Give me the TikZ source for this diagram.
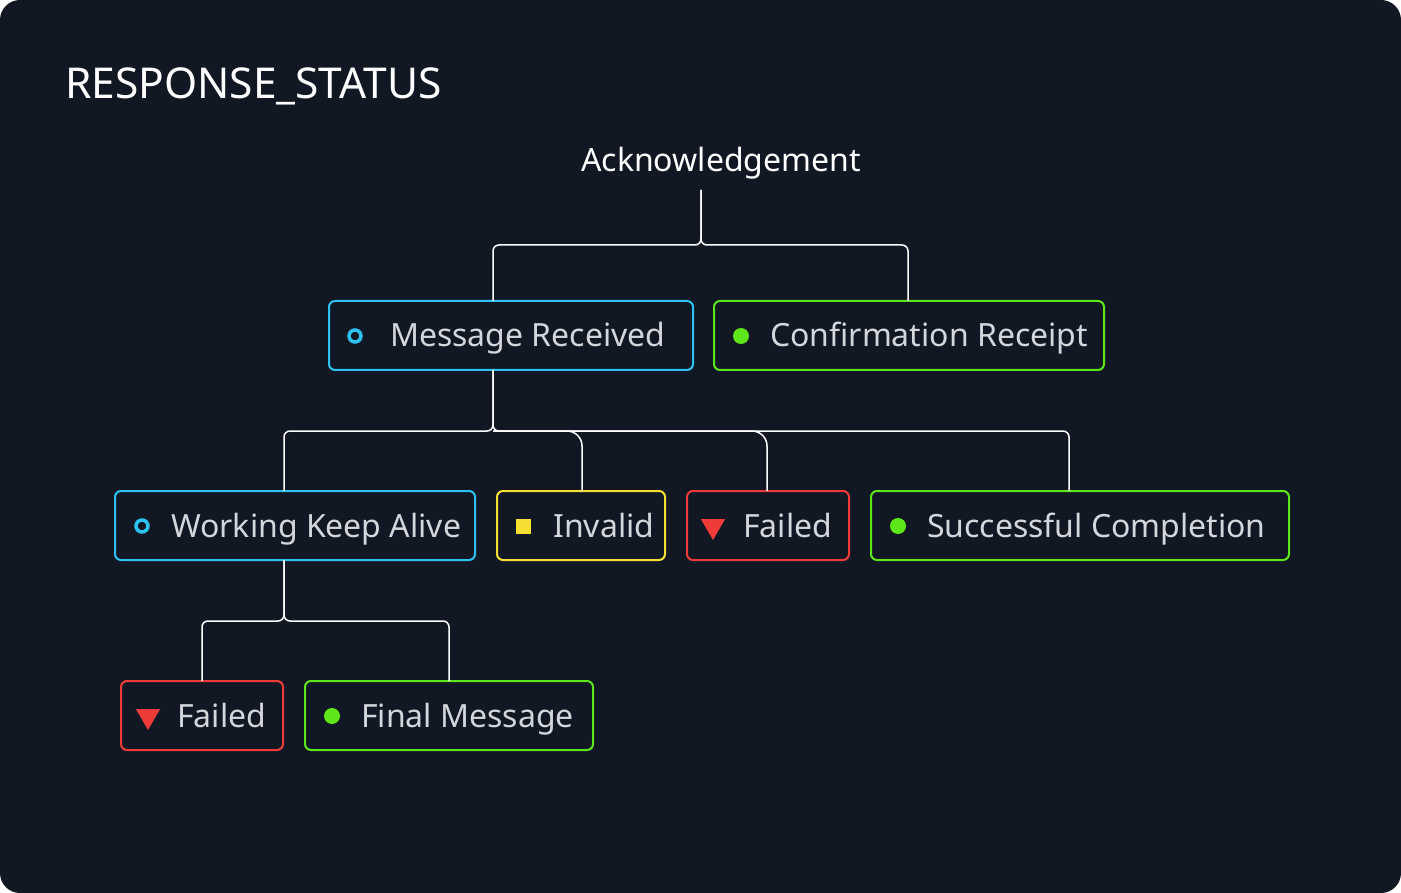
\documentclass[tikz,border=0pt]{standalone}
\usepackage{fontspec}
\setmainfont{Noto Sans}
\usetikzlibrary{shapes.geometric}

\definecolor{bgc}{HTML}{111823}
\definecolor{cyanc}{HTML}{2CC3F3}
\definecolor{greenc}{HTML}{5DE619}
\definecolor{yellowc}{HTML}{F6DE32}
\definecolor{redc}{HTML}{F03B3B}
\definecolor{txtc}{HTML}{D3D6DB}

\tikzset{
  statusbox/.style={draw=#1, line width=2pt, rounded corners=6pt, fill=bgc,
    minimum height=69pt, inner sep=0pt},
  boxtext/.style={anchor=base west, inner sep=0pt, text=txtc,
    font=\fontsize{32}{38}\selectfont},
  ringicon/.style={circle, draw=cyanc, line width=3.5pt, minimum size=12pt, inner sep=0pt},
  doticon/.style={circle, fill=greenc, minimum size=16pt, inner sep=0pt},
  squareicon/.style={rectangle, fill=yellowc, minimum size=15pt, inner sep=0pt},
  triicon/.style={isosceles triangle, isosceles triangle apex angle=60, shape border rotate=-90,
    fill=redc, minimum height=21pt, inner sep=0pt},
  link/.style={draw=white, line width=1.5pt, rounded corners=6pt},
  biglink/.style={draw=white, line width=1.5pt, rounded corners=15pt}
}

\begin{document}
\begin{tikzpicture}[x=1pt, y=-1pt]

  \useasboundingbox (0,0) rectangle (1401,893);
  \fill[bgc, rounded corners=20pt] (0,0) rectangle (1401,893);

  % title and root
  \node[anchor=base west, inner sep=0pt, text=white, font=\fontsize{42.5}{50}\selectfont]
    (title) at (65,99) {RESPONSE\_STATUS};
  \node[anchor=base, inner sep=0pt, text=white, font=\fontsize{32}{38}\selectfont]
    (ack) at (721,172) {Acknowledgement};

  % first level
  \node[statusbox=cyanc, minimum width=364pt] (mr) at (511,335.5) {};
  \node[ringicon] (mr-icon) at (355,336) {};
  \node[boxtext] (mr-text) at (390,347) {Message Received};

  \node[statusbox=greenc, minimum width=390pt] (cr) at (909,335.5) {};
  \node[doticon] (cr-icon) at (741,336) {};
  \node[boxtext] (cr-text) at (770,347) {Confirmation Receipt};

  % second level
  \node[statusbox=cyanc, minimum width=360pt] (wka) at (295,525.5) {};
  \node[ringicon] (wka-icon) at (142,526) {};
  \node[boxtext] (wka-text) at (171,537) {Working Keep Alive};

  \node[statusbox=yellowc, minimum width=168pt] (inv) at (581,525.5) {};
  \node[squareicon] (inv-icon) at (523,526) {};
  \node[boxtext] (inv-text) at (553,537) {Invalid};

  \node[statusbox=redc, minimum width=162pt] (fail) at (768,525.5) {};
  \node[triicon] (fail-icon) at (713,526) {};
  \node[boxtext] (fail-text) at (743,537) {Failed};

  \node[statusbox=greenc, minimum width=418pt] (sc) at (1080,525.5) {};
  \node[doticon] (sc-icon) at (898,526) {};
  \node[boxtext] (sc-text) at (927,537) {Successful Completion};

  % third level
  \node[statusbox=redc, minimum width=162pt] (failb) at (202,715.5) {};
  \node[triicon] (failb-icon) at (148,716) {};
  \node[boxtext] (failb-text) at (177,727) {Failed};

  \node[statusbox=greenc, minimum width=288pt] (fm) at (449,715.5) {};
  \node[doticon] (fm-icon) at (332,716) {};
  \node[boxtext] (fm-text) at (361,727) {Final Message};

  % connector ends
  \coordinate (ack-out) at (701,190);
  \coordinate (j0) at (701,245);
  \coordinate (mr-in) at (493,301);
  \coordinate (cr-in) at (908,301);

  \coordinate (mr-out) at (493,370);
  \coordinate (j1) at (493,431);
  \coordinate (wka-in) at (284,491);
  \coordinate (inv-in) at (582,491);
  \coordinate (fail-in) at (767,491);
  \coordinate (sc-in) at (1069,491);

  \coordinate (wka-out) at (284,560);
  \coordinate (j2) at (284,621);
  \coordinate (failb-in) at (202,681);
  \coordinate (fm-in) at (449,681);

  % connectors
  \draw[link] (ack-out) -- (j0) -| (mr-in);
  \draw[link] (ack-out) -- (j0) -| (cr-in);

  \draw[link] (mr-out) -- (j1) -| (wka-in);
  \draw[link] (mr-out) -- (j1) -| (sc-in);
  \draw[biglink] (j1) -| (inv-in);
  \draw[biglink] (j1) -| (fail-in);

  \draw[link] (wka-out) -- (j2) -| (failb-in);
  \draw[link] (wka-out) -- (j2) -| (fm-in);

\end{tikzpicture}
\end{document}
